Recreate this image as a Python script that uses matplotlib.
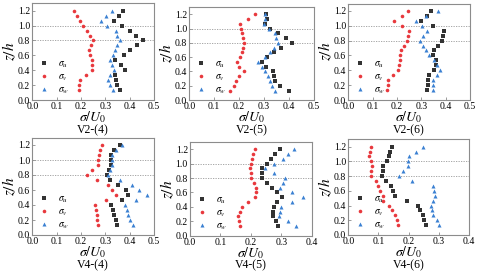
import matplotlib.pyplot as plt
import numpy as np

plt.rcParams['font.family'] = ['Liberation Serif', 'DejaVu Serif']
plt.rcParams['mathtext.fontset'] = 'stix'

# heights z/h (same for every profile)
z = [1.2, 1.133, 1.067, 1.0, 0.933, 0.867, 0.8, 0.733, 0.667, 0.6,
     0.533, 0.467, 0.4, 0.333, 0.267, 0.2, 0.133]

# V2-(4)
v24_u = [0.374, 0.355, 0.336, 0.370, 0.400, 0.428, 0.455, 0.430, 0.400, 0.375,
         0.340, 0.364, 0.382, 0.340, 0.345, 0.346, 0.360]
v24_v = [0.171, 0.184, 0.196, 0.210, 0.223, 0.236, 0.248, 0.240, 0.235, 0.236,
         0.244, 0.247, 0.245, 0.221, 0.196, 0.193, 0.192]
v24_w = [0.326, 0.303, 0.282, 0.306, 0.343, 0.348, 0.360, 0.350, 0.339, 0.331,
         0.320, 0.328, 0.337, 0.318, 0.312, 0.320, 0.330]

# V2-(5)
v25_u = [0.309, 0.311, 0.302, 0.323, 0.355, 0.387, 0.410, 0.369, 0.338, 0.312,
         0.292, 0.307, 0.334, 0.341, 0.343, 0.365, 0.398]
v25_v = [0.263, 0.235, 0.205, 0.207, 0.210, 0.216, 0.220, 0.216, 0.212, 0.204,
         0.192, 0.200, 0.220, 0.200, 0.188, 0.178, 0.163]
v25_w = [0.304, 0.304, 0.299, 0.319, 0.343, 0.347, 0.354, 0.339, 0.323, 0.303,
         0.276, 0.290, 0.305, 0.315, 0.324, 0.333, 0.342]

# V2-(6)
v26_u = [0.338, 0.322, 0.297, 0.347, 0.395, 0.390, 0.386, 0.367, 0.352, 0.347,
         0.360, 0.360, 0.352, 0.333, 0.329, 0.326, 0.323]
v26_v = [0.247, 0.219, 0.189, 0.219, 0.249, 0.247, 0.240, 0.228, 0.215, 0.212,
         0.212, 0.210, 0.205, 0.185, 0.164, 0.163, 0.160]
v26_w = [0.367, 0.319, 0.277, 0.301, 0.325, 0.308, 0.295, 0.306, 0.319, 0.333,
         0.352, 0.363, 0.378, 0.364, 0.349, 0.347, 0.347]

# V4-(4)
v44_u = [0.359, 0.337, 0.322, 0.323, 0.322, 0.315, 0.306, 0.319, 0.353, 0.384,
         0.395, 0.370, 0.322, 0.333, 0.337, 0.344, 0.347]
v44_v = [0.288, 0.279, 0.275, 0.271, 0.269, 0.245, 0.223, 0.267, 0.310, 0.329,
         0.344, 0.301, 0.259, 0.262, 0.264, 0.267, 0.269]
v44_w = [0.369, 0.345, 0.327, 0.328, 0.327, 0.319, 0.310, 0.360, 0.410, 0.438,
         0.470, 0.426, 0.381, 0.388, 0.394, 0.401, 0.412]

# V4-(5)
v45_u = [0.296, 0.279, 0.266, 0.252, 0.236, 0.236, 0.236, 0.252, 0.271, 0.287,
         0.303, 0.285, 0.276, 0.274, 0.272, 0.282, 0.290]
v45_v = [0.214, 0.208, 0.205, 0.200, 0.198, 0.200, 0.200, 0.210, 0.216, 0.217,
         0.215, 0.192, 0.170, 0.163, 0.157, 0.160, 0.163]
v45_w = [0.343, 0.323, 0.307, 0.277, 0.246, 0.277, 0.312, 0.305, 0.296, 0.334,
         0.372, 0.336, 0.299, 0.296, 0.292, 0.321, 0.348]

# V4-(6)
v46_u = [0.146, 0.138, 0.135, 0.127, 0.116, 0.114, 0.111, 0.125, 0.140, 0.147,
         0.155, 0.193, 0.232, 0.238, 0.247, 0.252, 0.258]
v46_v = [0.074, 0.072, 0.070, 0.074, 0.078, 0.075, 0.074, 0.092, 0.097, 0.105,
         0.114, 0.116, 0.136, 0.146, 0.155, 0.162, 0.166]
v46_w = [0.247, 0.224, 0.201, 0.199, 0.197, 0.182, 0.169, 0.210, 0.282, 0.284,
         0.286, 0.282, 0.273, 0.276, 0.282, 0.293, 0.302]

titles = ['V2-(4)', 'V2-(5)', 'V2-(6)', 'V4-(4)', 'V4-(5)', 'V4-(6)']
xmax = [0.5, 0.5, 0.5, 0.5, 0.4, 0.4]
profiles = [(v24_u, v24_v, v24_w), (v25_u, v25_v, v25_w), (v26_u, v26_v, v26_w),
            (v44_u, v44_v, v44_w), (v45_u, v45_v, v45_w), (v46_u, v46_v, v46_w)]

# axes boxes in pixels: left, right, top, bottom
boxes = [(32.3, 154, 3.3, 100), (189.3, 314, 7.2, 100), (348.3, 470, 3.5, 100),
         (32.3, 154, 137.5, 235), (190, 311.7, 142, 235.7), (348.3, 469, 139.3, 235)]

W, H = 480, 277
fig = plt.figure(figsize=(W / 100, H / 100), dpi=100)

black = '#333333'
red = '#e8383d'
blue = '#3a80d2'
frame = '#8c8c8c'

for i in range(6):
    l, r, t, b = boxes[i]
    ax = fig.add_axes([l / W, 1 - b / H, (r - l) / W, (b - t) / H])
    su, sv, sw = profiles[i]

    ax.axhline(0.8, color='#999999', lw=0.6, ls=(0, (1.5, 1.5)), zorder=1)
    ax.axhline(1.0, color='#999999', lw=0.6, ls=(0, (1.5, 1.5)), zorder=1)

    ax.plot(su, z, 's', ms=2.4, color=black, mew=0, label=r'$\sigma_u$')
    ax.plot(sv, z, 'o', ms=2.6, color=red, mew=0, label=r'$\sigma_v$')
    ax.plot(sw, z, '^', ms=2.9, color=blue, mew=0, label=r'$\sigma_w$')

    ax.set_xlim(0, xmax[i])
    ax.set_ylim(0, 1.3)
    ax.set_xticks(np.arange(0, xmax[i] + 0.01, 0.1))
    ax.set_yticks(np.arange(0, 1.21, 0.2))
    ax.xaxis.set_major_formatter(plt.FormatStrFormatter('%.1f'))
    ax.yaxis.set_major_formatter(plt.FormatStrFormatter('%.1f'))
    ax.tick_params(direction='in', length=2, width=0.6, color=frame,
                   labelsize=7, pad=1.5)
    for sp in ax.spines.values():
        sp.set_color(frame)
        sp.set_linewidth(0.8)

    ax.set_xlabel(r'$\sigma/U_0$', fontsize=10, labelpad=-1)
    ax.set_ylabel(r'$z/h$', fontsize=11, labelpad=0)

    ax.legend(loc='lower left', bbox_to_anchor=(0.02, -0.03), frameon=False,
              fontsize=7, handlelength=0.5, handletextpad=1.2,
              labelspacing=0.25, borderpad=0.2)

    # panel name below each panel
    fig.text((l + r) / 2 / W, 1 - (b + 30) / H, titles[i],
             ha='center', va='center', fontsize=8.5)

fig.savefig('out.png', dpi=100)
